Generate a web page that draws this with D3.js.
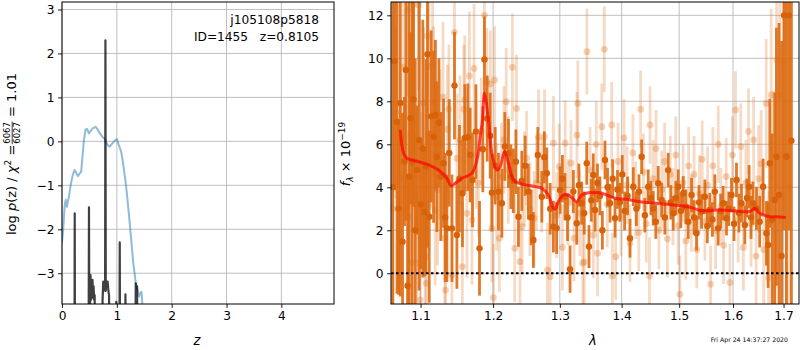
<!DOCTYPE html>
<html>
<head>
<meta charset="utf-8">
<script src="https://cdn.jsdelivr.net/npm/d3@7"></script>
<style>
  body { margin: 0; background: #fff; }
  text { font-family: "DejaVu Sans", sans-serif; }
</style>
</head>
<body>
<div id="chart"></div>
<script>
// ---- p(z) panel data ----
const zCoarse = [0, 0.02, 0.05, 0.068, 0.09, 0.11, 0.128, 0.15, 0.17, 0.20, 0.23, 0.26, 0.29, 0.33, 0.35,
  0.38, 0.40, 0.43, 0.46, 0.49, 0.53, 0.566, 0.615, 0.65, 0.69, 0.74, 0.78, 0.83, 0.87, 0.93, 0.97,
  1.00, 1.04, 1.08, 1.12, 1.17, 1.20, 1.235, 1.27, 1.30, 1.345, 1.38, 1.405, 1.43, 1.45, 1.467, 1.50]
const lnpCoarse = [-2.3, -2.02, -1.45, -1.33, -1.49, -1.35, -1.26, -1.05, -0.92, -0.75, -0.65, -0.72, -0.79, -0.72, -0.69,
  -0.25, 0.03, 0.27, 0.28, 0.18, 0.25, 0.30, 0.33, 0.27, 0.18, 0.10, 0.05, -0.08, -0.12, -0.03, 0.03,
  0.05, -0.10, -0.24, -0.55, -1.03, -1.40, -1.86, -2.35, -2.77, -3.22, -3.40, -3.53, -3.45, -3.42, -3.75, -4.5]

const zFine = [0.200, 0.226, 0.232, 0.238, 0.480, 0.486, 0.492, 0.498, 0.512, 0.520, 0.530, 0.537, 0.546, 0.556,
  0.566, 0.576, 0.586, 0.596, 0.606, 0.730, 0.740, 0.752, 0.765, 0.778, 0.786, 0.792, 0.798, 0.806, 0.818,
  0.832, 0.846, 0.858, 0.870, 0.980, 0.990, 1.000, 1.044, 1.053, 1.062, 1.150, 1.157, 1.164, 1.330, 1.345,
  1.360, 1.369, 1.378, 1.400]
const lnpFine = [-6, -6, -1.64, -6, -6, -4.2, -1.50, -4.2, -3.8, -3.04, -3.6, -3.3, -3.56, -3.15,
  -3.42, -3.3, -3.6, -3.5, -6, -6, -3.6, -3.19, -3.25, -3.2, -3.4, 2.30, -3.4, -3.19, -3.25,
  -3.19, -3.4, -3.5, -6, -6, -3.65, -6, -6, -2.3, -6, -6, -3.48, -6, -6, -3.23,
  -3.5, -3.3, -6, -6]

const zTicks = [0, 1, 2, 3, 4]
const lnpTicks = [-3, -2, -1, 0, 1, 2, 3]

// ---- spectrum panel data: [lambda (um), flux, error] ----
const darkSpec = [
  [1.0640, 4.0, 9], [1.0663, 9.87, 6], [1.0694, 7.05, 8], [1.0715, 3.0, 4], [1.0736, 7.92, 9],
  [1.0765, 1.47, 6], [1.0790, 5.2, 3], [1.0809, 9.46, 7], [1.0830, -0.58, 5], [1.0850, 4.5, 9],
  [1.0869, 7.21, 4], [1.0890, 5.2, 8], [1.0908, 8.09, 5], [1.0930, 2.0, 8], [1.0953, 4.8, 3],
  [1.0980, 6.2, 7], [1.1005, 3.2, 3], [1.1030, 5.8, 6], [1.1053, 2.85, 3], [1.1070, 4.96, 5],
  [1.1092, 10.19, 9], [1.1115, 2.63, 4], [1.1140, 7.3, 4], [1.1173, 6.35, 4], [1.1198, 7.36, 3.5],
  [1.1218, 5.42, 3.5], [1.1245, 7.0, 3], [1.1270, 4.5, 3], [1.1307, 5.12, 3], [1.1330, 2.6, 3],
  [1.1353, 2.09, 2.5], [1.1385, 5.6, 2.5], [1.1422, 2.09, 2.5], [1.1457, 8.73, 2.5], [1.1490, 1.78, 2.5],
  [1.1525, 4.4, 2.5], [1.1567, 3.72, 2.5], [1.1600, 6.3, 2.5], [1.1643, 6.33, 2.5], [1.1675, 5.5, 2.2],
  [1.1707, 4.34, 2.2], [1.1755, 6.59, 2.2], [1.1806, 1.16, 2.2], [1.1853, 5.77, 2], [1.1876, 9.95, 2],
  [1.1915, 7.2, 2], [1.1958, 6.4, 2], [1.1982, 3.75, 1.8], [1.2030, 5.0, 1.8], [1.2077, 3.8, 1.8],
  [1.2127, 3.26, 1.6], [1.2170, 5.9, 1.6], [1.2223, 5.58, 1.6], [1.2258, 4.49, 1.5], [1.2295, 4.3, 1.5],
  [1.2332, 5.19, 1.5], [1.2370, 2.63, 1.4], [1.2420, 4.3, 1.4], [1.2470, 5.0, 1.4], [1.2518, 3.8, 1.3],
  [1.2560, 2.6, 1.3], [1.2594, 1.55, 1.3], [1.2661, 5.5, 1.3], [1.2722, 3.56, 1.2], [1.2760, 5.4, 1.2],
  [1.2798, 4.65, 1.2], [1.2850, 3.0, 1.2], [1.2900, 2.17, 1.2], [1.2950, 2.1, 1.2], [1.3003, 3.87, 1.1],
  [1.3040, 4.4, 1.1], [1.3081, 3.56, 1.1], [1.3120, 2.6, 1.1], [1.3160, 0.19, 1.1], [1.3212, 3.8, 1.0],
  [1.3266, 2.33, 1.0], [1.3300, 4.1, 1.0], [1.3345, 3.26, 1.0], [1.3385, 2.8, 1.0], [1.3426, 5.12, 1.0],
  [1.3462, 1.24, 1.0], [1.3500, 3.4, 1.0], [1.3532, 4.57, 1.0], [1.3560, 2.94, 1.0], [1.3600, 4.2, 0.9],
  [1.3640, 3.6, 0.9], [1.3680, 2.0, 0.9], [1.3723, 5.27, 0.9], [1.3765, 4.0, 0.9], [1.3806, 3.26, 0.9],
  [1.3850, 4.4, 0.9], [1.3889, 2.56, 0.9], [1.3930, 3.9, 0.9], [1.3970, 3.3, 0.9], [1.4010, 4.6, 0.9],
  [1.4050, 2.9, 0.9], [1.4100, 3.6, 0.9], [1.4141, 1.63, 0.9], [1.4197, 4.03, 0.9], [1.4250, 3.0, 0.8],
  [1.4295, 3.8, 0.8], [1.4340, 5.42, 0.8], [1.4395, 2.7, 0.8], [1.4454, 4.03, 0.8], [1.4500, 3.5, 0.8],
  [1.4540, 3.02, 0.8], [1.4585, 2.4, 0.8], [1.4628, 4.19, 0.8], [1.4688, 3.41, 0.8], [1.4745, 2.6, 0.8],
  [1.4804, 4.8, 0.8], [1.4850, 3.3, 0.8], [1.4893, 2.79, 0.8], [1.4940, 3.5, 0.8], [1.4983, 4.03, 0.8],
  [1.5030, 2.9, 0.8], [1.5073, 3.72, 0.8], [1.5120, 3.1, 0.8], [1.5164, 2.4, 0.8], [1.5224, 3.64, 0.8],
  [1.5270, 2.6, 0.8], [1.5316, 1.86, 0.8], [1.5360, 3.3, 0.8], [1.5408, 2.87, 0.8], [1.5470, 3.56, 0.8],
  [1.5515, 2.2, 0.8], [1.5562, 2.94, 0.8], [1.5610, 2.5, 0.8], [1.5655, 3.8, 0.8], [1.5718, 2.09, 0.8],
  [1.5765, 2.9, 0.8], [1.5812, 3.26, 0.8], [1.5876, 2.56, 0.8], [1.5920, 3.0, 0.8], [1.5971, 3.64, 0.8],
  [1.6020, 2.3, 0.8], [1.6067, 4.34, 0.8], [1.6115, 2.8, 0.9], [1.6164, 3.26, 0.9], [1.6229, 2.25, 0.9],
  [1.6270, 3.5, 0.9], [1.6312, 4.03, 1.0], [1.6350, 2.6, 1.0], [1.6390, 3.26, 1.0], [1.6457, 3.02, 1.0],
  [1.6520, 2.4, 1.2], [1.6588, 4.03, 1.3], [1.6655, 1.86, 1.5], [1.6688, 1.32, 2], [1.6722, 5.12, 3],
  [1.6770, 2.5, 4], [1.6822, 3.41, 5], [1.6856, 5.42, 6], [1.6908, 3.64, 8], [1.6960, 0.8, 10],
  [1.7010, 12.0, 10], [1.7059, 5.42, 10], [1.7110, 12.0, 10], [1.7161, 6.17, 10]
]

const lightSpec = [
  [1.0640, 3.0, 5], [1.0680, 7.5, 4], [1.0736, 4.42, 5], [1.0778, 9.6, 4], [1.0834, 12.25, 4],
  [1.0842, 2.63, 4], [1.0880, 0.5, 3], [1.0908, 12.5, 4], [1.0931, 3.56, 3], [1.0953, 0.47, 3],
  [1.0974, 12.48, 4], [1.0996, -1.24, 3], [1.1018, 4.49, 3], [1.1039, 7.95, 3.5], [1.1062, 0.77, 3],
  [1.1075, -0.47, 3], [1.1092, 11.04, 3.5], [1.1110, 9.61, 3.5], [1.1140, 6.5, 3.5], [1.1160, 9.73, 3.5],
  [1.1173, 7.98, 3.5], [1.1194, 2.94, 3.5], [1.1226, 3.87, 3.5], [1.1260, 6.0, 3.5], [1.1300, 8.19, 3.5],
  [1.1325, 1.63, 3], [1.1335, -0.78, 3], [1.1360, 6.7, 3], [1.1381, 7.64, 3], [1.1422, -0.08, 3],
  [1.1457, 11.21, 3], [1.1490, 5.35, 3], [1.1533, 6.2, 3], [1.1566, 0.31, 3], [1.1587, 7.63, 3],
  [1.1599, 8.06, 3], [1.1630, 2.79, 3], [1.1664, 9.18, 3], [1.1700, 2.48, 3], [1.1729, 9.53, 3],
  [1.1760, 5.5, 2.5], [1.1790, 4.19, 2.5], [1.1830, 6.6, 2.5], [1.1876, 12.0, 2.5], [1.1910, 8.91, 2.5],
  [1.1960, 8.8, 2.5], [1.1982, 2.09, 2.5], [1.2005, -1.13, 2.5], [1.2022, 8.99, 2.5], [1.2050, 3.56, 2.5],
  [1.2090, 1.63, 2.5], [1.2120, 4.5, 2.5], [1.2157, 6.2, 2.5], [1.2190, 7.98, 2.5], [1.2220, 4.8, 2.5],
  [1.2281, 9.58, 2.5], [1.2315, 1.16, 2.5], [1.2341, 7.67, 2.5], [1.2393, 0.54, 2.2], [1.2425, 2.17, 2.2],
  [1.2460, 4.4, 2.2], [1.2492, 5.35, 2.2], [1.2540, 3.0, 2.2], [1.2604, 2.56, 2.2], [1.2640, 4.2, 2.2],
  [1.2672, 6.35, 2.2], [1.2720, 4.1, 2.2], [1.2763, 6.35, 2.2], [1.2808, 0.15, 2.2], [1.2849, -0.16, 2.2],
  [1.2900, 6.05, 2.2], [1.2950, 2.7, 2.0], [1.2990, 4.96, 2.0], [1.3040, 1.2, 2.0], [1.3083, 6.05, 2.0],
  [1.3130, 3.3, 2.0], [1.3175, 5.12, 2.0], [1.3223, 1.63, 2.0], [1.3269, 6.43, 2.0], [1.3283, 7.9, 2.0],
  [1.3315, 2.79, 2.0], [1.3362, 0.47, 2.0], [1.3386, 0.54, 2.0], [1.3429, 10.31, 2.0], [1.3480, 4.8, 2.0],
  [1.3532, 1.78, 2.0], [1.3580, 6.0, 2.0], [1.3602, 0.93, 2.0], [1.3670, 6.82, 2.0], [1.3712, 10.42, 2.0],
  [1.3760, 3.2, 2.0], [1.3834, 6.9, 2.0], [1.3844, -0.12, 2.0], [1.3899, 0.77, 2.0], [1.3940, 5.2, 1.8],
  [1.3990, 2.6, 1.8], [1.4040, 6.3, 1.8], [1.4090, 4.1, 1.8], [1.4140, 1.4, 1.8], [1.4190, 5.6, 1.8],
  [1.4240, 3.4, 1.8], [1.4290, 1.9, 1.8], [1.4322, 7.63, 1.8], [1.4370, 4.7, 1.8], [1.4420, 2.3, 1.8],
  [1.4475, -0.13, 1.8], [1.4485, 6.9, 1.8], [1.4540, 4.4, 1.8], [1.4590, 5.8, 1.8], [1.4640, 2.0, 1.8],
  [1.4690, 3.9, 1.8], [1.4740, 5.2, 1.8], [1.4790, 1.6, 1.8], [1.4840, 4.6, 1.8], [1.4890, 3.1, 1.8],
  [1.4940, 5.5, 1.8], [1.4980, 2.2, 1.8], [1.5014, -0.98, 1.8], [1.5070, 4.2, 1.8], [1.5120, 1.5, 1.8],
  [1.5170, 5.0, 1.8], [1.5220, 2.8, 1.8], [1.5270, 4.6, 1.8], [1.5320, 1.1, 1.8], [1.5370, 3.7, 1.8],
  [1.5420, 5.3, 1.8], [1.5470, 2.4, 1.8], [1.5520, 4.1, 1.8], [1.5576, -0.51, 1.8], [1.5620, 5.0, 1.8],
  [1.5670, 2.0, 1.8], [1.5720, 6.0, 1.8], [1.5770, 3.1, 1.8], [1.5820, 1.3, 1.8], [1.5870, 4.5, 1.8],
  [1.5941, -0.43, 1.8], [1.5990, 5.5, 1.8], [1.6048, 7.6, 1.8], [1.6100, 2.5, 2], [1.6150, 5.9, 2],
  [1.6200, 1.2, 2], [1.6250, 4.2, 2], [1.6300, 6.6, 2], [1.6350, 2.3, 2], [1.6400, 6.2, 2],
  [1.6450, 0.8, 2.5], [1.6500, 4.4, 2.5], [1.6550, 5.1, 2.5], [1.6600, 1.1, 3], [1.6650, 7.9, 3],
  [1.6700, -0.2, 4], [1.6750, 8.3, 4], [1.6800, 3.5, 5], [1.6860, 9.92, 6], [1.6925, 8.3, 6],
  [1.7000, 9.84, 7], [1.7060, 5.5, 8], [1.7120, 4.0, 9]
]

// best-fit model
const modelLam = [1.0736, 1.0778, 1.0822, 1.0974, 1.1106, 1.1240, 1.1353, 1.1412, 1.1467, 1.1559, 1.1698,
  1.1769, 1.1815, 1.1848, 1.1876, 1.1933, 1.1982, 1.2054, 1.2102, 1.2164, 1.2223, 1.2296, 1.2370, 1.2620,
  1.2722, 1.2823, 1.2891, 1.2926, 1.2977, 1.3055, 1.3133, 1.3212, 1.3266, 1.3346, 1.3452, 1.3560, 1.3641,
  1.3751, 1.3889, 1.4085, 1.4311, 1.4600, 1.4893, 1.5194, 1.5408, 1.5688, 1.6003, 1.6325, 1.6423, 1.6522,
  1.6722, 1.6856, 1.7046]
const modelFlux = [6.67, 5.58, 5.35, 5.19, 5.04, 4.80, 4.42, 4.06, 4.19, 4.42, 4.65,
  5.27, 6.35, 7.13, 8.37, 7.13, 5.58, 4.80, 4.96, 5.66, 5.12, 4.34, 4.19, 4.03,
  3.95, 3.64, 3.07, 2.98, 3.33, 3.64, 3.64, 3.44, 3.33, 3.64, 3.75, 3.75, 3.75,
  3.64, 3.49, 3.44, 3.33, 3.26, 3.18, 3.07, 2.91, 2.94, 2.91, 2.87, 3.02, 2.79,
  2.63, 2.63, 2.60]

const lamTicks = [1.1, 1.2, 1.3, 1.4, 1.5, 1.6, 1.7]
const fluxTicks = [0, 2, 4, 6, 8, 10, 12]

// ---- layout ----
const W = 800, H = 350, FS = 12.2
const L = { x0: 62, x1: 334, y0: 2, y1: 304 }
const R = { x0: 391, x1: 799, y0: 2, y1: 304 }

const svg = d3.select('#chart').append('svg')
    .attr('width', W).attr('height', H)
    .style('display', 'block')

const defs = svg.append('defs')

const xz = d3.scaleLinear().domain([0, 4.96]).range([L.x0, L.x1])
const yp = d3.scaleLinear().domain([-3.7, 3.17]).range([L.y1, L.y0])
const xl = d3.scaleLog().domain([1.0617, 1.7318]).range([R.x0, R.x1])
const yf = d3.scaleLinear().domain([-1.43, 12.62]).range([R.y1, R.y0])

function frame(box, x, y, xt, yt, xfmt, yfmt, id) {
    // clip for the marks
    defs.append('clipPath').attr('id', id)
        .append('rect')
        .attr('x', box.x0).attr('y', box.y0)
        .attr('width', box.x1 - box.x0).attr('height', box.y1 - box.y0)

    const grid = svg.append('g').attr('stroke', '#b0b0b0').attr('stroke-width', 0.8)
    grid.selectAll('.gx').data(xt).join('line')
        .attr('x1', d => x(d)).attr('x2', d => x(d))
        .attr('y1', box.y0).attr('y2', box.y1)
    grid.selectAll('.gy').data(yt).join('line')
        .attr('y1', d => y(d)).attr('y2', d => y(d))
        .attr('x1', box.x0).attr('x2', box.x1)

    const ax = svg.append('g')
        .attr('transform', `translate(0,${box.y1})`)
        .call(d3.axisBottom(x).tickValues(xt).tickFormat(xfmt).tickSize(3.9).tickPadding(3.5))
    const ay = svg.append('g')
        .attr('transform', `translate(${box.x0},0)`)
        .call(d3.axisLeft(y).tickValues(yt).tickFormat(yfmt).tickSize(3.9).tickPadding(3.5))
    ;[ax, ay].forEach(g => {
        g.select('.domain').remove()
        g.attr('font-size', FS).attr('font-family', '"DejaVu Sans", sans-serif')
        g.selectAll('.tick line').attr('stroke', '#000').attr('stroke-width', 0.9)
        g.selectAll('.tick text').attr('fill', '#000')
    })
    return svg.append('g').attr('clip-path', `url(#${id})`)
}

// ---- left panel ----
const gl = frame(L, xz, yp, zTicks, lnpTicks, d3.format('d'), d3.format('d'), 'clipL')

gl.append('path')
    .datum(d3.zip(zCoarse, lnpCoarse))
    .attr('fill', 'none')
    .attr('stroke', '#1f77b4')
    .attr('stroke-opacity', 0.5)
    .attr('stroke-width', 2)
    .attr('stroke-linejoin', 'round')
    .attr('d', d3.line().x(d => xz(d[0])).y(d => yp(d[1])))

gl.append('path')
    .datum(d3.zip(zFine, lnpFine))
    .attr('fill', 'none')
    .attr('stroke', '#000')
    .attr('stroke-opacity', 0.75)
    .attr('stroke-width', 2.2)
    .attr('stroke-linejoin', 'round')
    .attr('d', d3.line().x(d => xz(d[0])).y(d => yp(d[1])))

svg.append('rect')
    .attr('x', L.x0).attr('y', L.y0)
    .attr('width', L.x1 - L.x0).attr('height', L.y1 - L.y0)
    .attr('fill', 'none').attr('stroke', '#000').attr('stroke-width', 1)

svg.append('text')
    .attr('x', 319).attr('y', 24)
    .attr('text-anchor', 'end').attr('font-size', FS)
    .text('j105108p5818')
svg.append('text')
    .attr('x', 319).attr('y', 41)
    .attr('text-anchor', 'end').attr('font-size', FS)
    .style('white-space', 'pre')
    .text('ID=1455   z=0.8105')

svg.append('text')
    .attr('x', 197).attr('y', 345)
    .attr('text-anchor', 'middle').attr('font-size', FS + 1)
    .attr('font-style', 'italic')
    .text('z')

// left y label with the chi^2 fraction
{
    const g = svg.append('g')
    const t1 = g.append('text').attr('font-size', FS + 0.8).attr('x', 0).attr('y', 0)
    t1.append('tspan').text('log ')
    t1.append('tspan').attr('font-style', 'italic').text('p')
    t1.append('tspan').text('(z) / ')
    t1.append('tspan').attr('font-style', 'italic').text('χ')
    t1.append('tspan').attr('font-size', 9).attr('dy', -5).text('2')
    t1.append('tspan').attr('dy', 5).text(' = ')
    const w1 = t1.node().getComputedTextLength()
    const num = g.append('text').attr('font-size', 8.5).attr('text-anchor', 'middle').attr('y', -5.8).text('6067')
    const wf = num.node().getComputedTextLength() + 2
    num.attr('x', w1 + wf / 2)
    g.append('text').attr('font-size', 8.5).attr('text-anchor', 'middle')
        .attr('x', w1 + wf / 2).attr('y', 4.2).text('6027')
    g.append('line').attr('x1', w1 + 0.5).attr('x2', w1 + wf - 0.5)
        .attr('y1', -3.8).attr('y2', -3.8).attr('stroke', '#000').attr('stroke-width', 0.8)
    const t2 = g.append('text').attr('font-size', FS + 0.8).attr('x', w1 + wf).attr('y', 0)
        .style('white-space', 'pre').text(' = 1.01')
    const wTot = w1 + wf + t2.node().getComputedTextLength()
    g.attr('transform', `translate(16,154) rotate(-90) translate(${-wTot / 2},0)`)
}

// ---- right panel ----
const gr = frame(R, xl, yf, lamTicks, fluxTicks, d3.format('.1f'), d3.format('d'), 'clipR')

const orange = '#dd6a12'

function errs(g, data, opacity) {
    g.selectAll(null).data(data).join('line')
        .attr('x1', d => xl(d[0])).attr('x2', d => xl(d[0]))
        .attr('y1', d => yf(d[1] - d[2])).attr('y2', d => yf(d[1] + d[2]))
        .attr('stroke', orange).attr('stroke-width', 2.8)
        .attr('stroke-opacity', opacity)
}

const light = gr.append('g')
errs(light, lightSpec, 0.25)
light.selectAll('circle').data(lightSpec).join('circle')
    .attr('cx', d => xl(d[0])).attr('cy', d => yf(d[1]))
    .attr('r', 3.4)
    .attr('fill', orange).attr('fill-opacity', 0.3)

const dark = gr.append('g')
errs(dark, darkSpec, 0.9)
dark.selectAll('circle').data(darkSpec).join('circle')
    .attr('cx', d => xl(d[0])).attr('cy', d => yf(d[1]))
    .attr('r', 3.2)
    .attr('fill', '#d8620a')

gr.append('path')
    .datum(d3.zip(modelLam, modelFlux))
    .attr('fill', 'none')
    .attr('stroke', '#ff0000')
    .attr('stroke-opacity', 0.7)
    .attr('stroke-width', 3)
    .attr('stroke-linejoin', 'round')
    .attr('d', d3.line().curve(d3.curveCatmullRom).x(d => xl(d[0])).y(d => yf(d[1])))

gr.append('line')
    .attr('x1', R.x0).attr('x2', R.x1)
    .attr('y1', yf(0)).attr('y2', yf(0))
    .attr('stroke', '#000').attr('stroke-width', 2)
    .attr('stroke-dasharray', '2.5,2.5')

svg.append('rect')
    .attr('x', R.x0).attr('y', R.y0)
    .attr('width', R.x1 - R.x0).attr('height', R.y1 - R.y0)
    .attr('fill', 'none').attr('stroke', '#000').attr('stroke-width', 1)

svg.append('text')
    .attr('x', 593).attr('y', 345)
    .attr('text-anchor', 'middle').attr('font-size', FS + 1)
    .attr('font-style', 'italic')
    .text('λ')

// right y label
{
    const t = svg.append('text')
        .attr('transform', 'translate(350,154) rotate(-90)')
        .attr('text-anchor', 'middle')
        .attr('font-size', FS + 0.8)
    t.append('tspan').attr('font-style', 'italic').text('f')
    t.append('tspan').attr('font-style', 'italic').attr('font-size', 9).attr('dy', 3).text('λ')
    t.append('tspan').attr('dy', -3).text(' × 10')
    t.append('tspan').attr('font-size', 9).attr('dy', -5.5).text('−19')
}

svg.append('text')
    .attr('x', 788).attr('y', 342)
    .attr('text-anchor', 'end').attr('font-size', 6.2)
    .text('Fri Apr 24 14:37:27 2020')
</script>
</body>
</html>
